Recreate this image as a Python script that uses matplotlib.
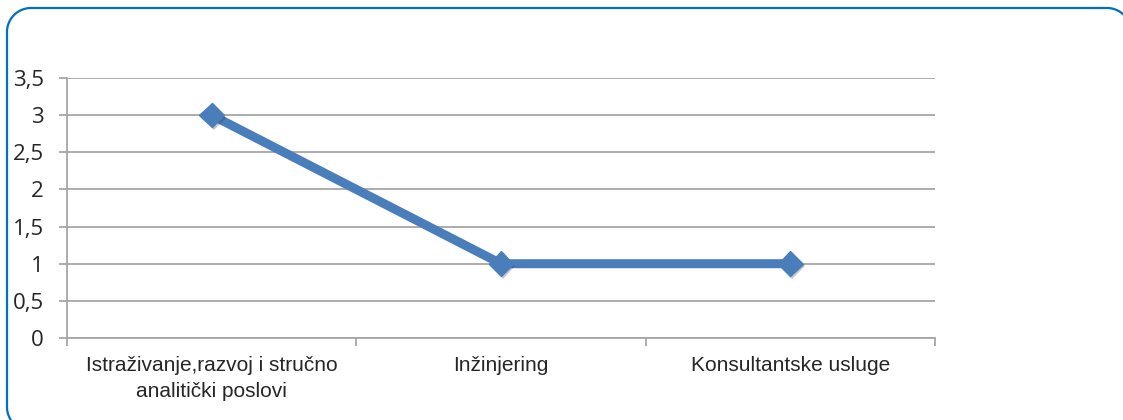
import matplotlib
matplotlib.use("Agg")
import matplotlib.pyplot as plt
import numpy as np
from matplotlib.patches import PathPatch
from matplotlib.path import Path
from matplotlib.transforms import IdentityTransform
from matplotlib.ticker import FuncFormatter, FixedLocator
import matplotlib.patheffects as pe

categories = ["Istraživanje,razvoj i stručno\nanalitički poslovi", "Inžinjering", "Konsultantske usluge"]
values = [3, 1, 1]
yticks = [0, 0.5, 1, 1.5, 2, 2.5, 3, 3.5]

W, H = 1123, 420
fig = plt.figure(figsize=(W / 100, H / 100), dpi=100)


def rounded_rect(x0, y0, x1, y1, r):
    # pixel coords, origin bottom-left; circular corners
    pts = []
    for cx, cy, a0 in [(x1 - r, y0 + r, -90), (x1 - r, y1 - r, 0),
                       (x0 + r, y1 - r, 90), (x0 + r, y0 + r, 180)]:
        ang = np.radians(np.linspace(a0, a0 + 90, 30))
        pts.extend(zip(cx + r * np.cos(ang), cy + r * np.sin(ang)))
    pts.append(pts[0])
    return Path(pts, closed=True)


frame = PathPatch(rounded_rect(7, H - 431, 1131, H - 8, 24), fill=False,
                  edgecolor="#0070C0", linewidth=1.6,
                  transform=IdentityTransform(), figure=fig)
fig.patches.append(frame)

ax = fig.add_axes([67 / W, 1 - 338 / H, (935 - 67) / W, (338 - 78) / H])
x = list(range(len(categories)))
ax.plot(x, values, color="#4A7EBB", linewidth=6.5, zorder=3, solid_capstyle="butt")
ax.plot(x, values, linestyle="none", marker="D", markersize=12.5,
        markerfacecolor="#4A7EBB", markeredgecolor="#4A7EBB", zorder=4,
        path_effects=[pe.SimplePatchShadow(offset=(1.5, -2), alpha=0.25), pe.Normal()])

ax.set_xlim(-0.5, len(categories) - 0.5)
ax.set_ylim(0, 3.5)
ax.set_yticks(yticks)
ax.yaxis.set_major_formatter(FuncFormatter(lambda v, p: (f"{v:g}").replace(".", ",")))
ax.grid(axis="y", color="#A6A6A6", linewidth=1.3)
ax.set_axisbelow(True)

ax.set_xticks(x)
ax.set_xticklabels(categories, family=["Liberation Sans", "DejaVu Sans"],
                   fontsize=15, color="#262626", linespacing=1.45)
ax.xaxis.set_minor_locator(FixedLocator([-0.5, 0.5, 1.5, 2.5]))
ax.tick_params(axis="x", which="major", length=0, pad=13)
ax.tick_params(axis="x", which="minor", length=6, color="#A6A6A6", width=1.3)
ax.tick_params(axis="y", length=5.8, color="#A6A6A6", width=1.3, pad=11, labelsize=16,
               labelcolor="#262626")
for lab in ax.get_yticklabels():
    lab.set_family(["Open Sans", "DejaVu Sans"])

for s in ["top", "right"]:
    ax.spines[s].set_visible(False)
for s in ["left", "bottom"]:
    ax.spines[s].set_color("#A6A6A6")
    ax.spines[s].set_linewidth(1.3)

fig.savefig("out.png", dpi=100)
